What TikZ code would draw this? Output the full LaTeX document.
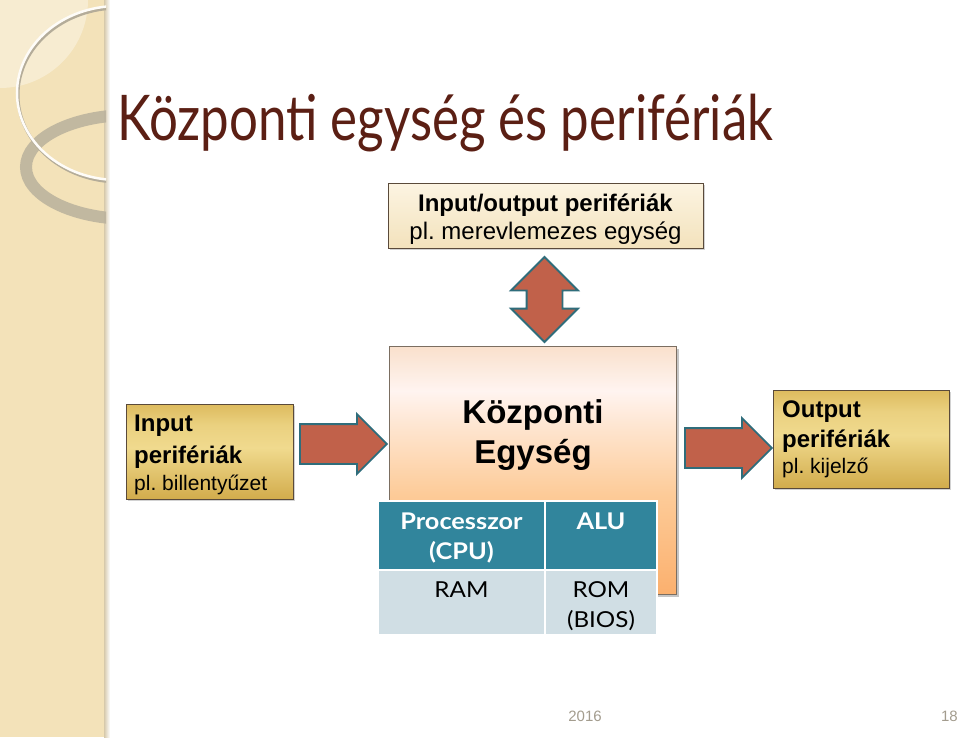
\documentclass[tikz,border=0pt]{standalone}
\usepackage{fontspec}
\setmainfont{Liberation Sans}
\newfontfamily\gillfont[FakeStretch=1.1]{Lato}
\newfontfamily\titlefont[FakeStretch=0.81]{Lato}
\usetikzlibrary{positioning,shapes.arrows,shadows}
\frenchspacing

\definecolor{bandcream}{HTML}{F3E2B9}
\definecolor{titlebrown}{HTML}{5B1F14}
\definecolor{arrowrust}{HTML}{C1614A}
\definecolor{arrowteal}{HTML}{2F6D7B}
\definecolor{cellteal}{HTML}{31859C}
\definecolor{cellgrey}{HTML}{D0DEE4}
\definecolor{boxedge}{HTML}{5A4A3A}
\definecolor{footgrey}{HTML}{A39C8E}
\definecolor{cpuorange}{HTML}{FBB06E}
\definecolor{cpumid}{HTML}{FDCB98}
\definecolor{cpulight}{HTML}{FFF4F0}
\definecolor{cputop}{HTML}{F9E0CC}
\definecolor{golddark}{HTML}{D2AC4C}
\definecolor{goldlight}{HTML}{F0DA8E}
\definecolor{goldtop}{HTML}{DDBB5E}

% vertical shadings: the path spans 25bp (bottom) to 75bp (top)
\pgfdeclareverticalshading{cpushade}{100bp}{color(0bp)=(cpuorange); color(25bp)=(cpuorange);
  color(45bp)=(cpumid); color(58bp)=(cpulight!60!cpumid); color(66bp)=(cpulight);
  color(75bp)=(cputop); color(100bp)=(cputop)}
\pgfdeclareverticalshading{goldshade}{100bp}{color(0bp)=(golddark); color(25bp)=(golddark);
  color(52bp)=(goldlight); color(64bp)=(goldlight!70!goldtop); color(75bp)=(goldtop);
  color(100bp)=(goldtop)}

\tikzset{
  perbox/.style={draw=boxedge, line width=0.8pt, inner sep=0pt,
    drop shadow={shadow xshift=1.5pt, shadow yshift=-1.5pt, opacity=0.35}},
  goldbox/.style={perbox, shading=goldshade},
  creambox/.style={perbox, top color={rgb,255:red,252;green,244;blue,226},
    bottom color={rgb,255:red,243;green,226;blue,188}},
  boxtext/.style={anchor=north west, align=left, inner sep=0pt,
    font=\fontsize{24}{30}\selectfont},
  cpubox/.style={draw=boxedge!80, line width=1pt, shading=cpushade,
    drop shadow={shadow xshift=2.5pt, shadow yshift=-2.5pt, opacity=0.45}},
  blockarrow/.style={single arrow, draw=arrowteal, fill=arrowrust, line width=1.8pt,
    inner xsep=0pt, inner ysep=19pt, single arrow head extend=10pt, minimum height=87},
  cell/.style={draw=white, line width=1.5pt, inner sep=0pt},
  celltext/.style={anchor=north, align=center, inner sep=0pt,
    font=\gillfont\fontsize{22}{30}\selectfont},
  foot/.style={text=footgrey, font=\fontsize{15}{18}\selectfont, inner sep=0pt}
}
\newcommand{\smallline}[1]{{\fontsize{21}{26}\selectfont #1}}

\begin{document}
\begin{tikzpicture}[x=1pt,y=-1pt]
\useasboundingbox (0,0) rectangle (959,737);
\fill[white] (0,0) rectangle (959,737);

% left band with rings
\fill[bandcream] (0,0) rectangle (106,737);
\shade[left color=bandcream!75!gray, right color=white] (104,0) rectangle (110,737);
\begin{scope}
  \clip (0,0) rectangle (106,737);
  \fill[white, opacity=0.35] (0,0) circle (88);
  \draw[line width=12, color=gray!50!bandcream, opacity=0.85] (130,167) ellipse (104 and 52);
  \draw[line width=3, gray!55!bandcream] (119,95) ellipse (101 and 87);
  \draw[line width=2.5, white!90!bandcream] (118,93) ellipse (101 and 87);
\end{scope}

% title
\node[anchor=base west, inner sep=0pt, text=titlebrown, font=\titlefont\fontsize{63}{70}\selectfont]
  (title) at (117,140) {Központi egység és perifériák};

% peripheral boxes
\node[creambox, minimum width=315, minimum height=65] (io) at (545.5,215.5) {};
\node[align=center, inner sep=0pt, font=\fontsize{24}{28}\selectfont] (iotext) at (545.5,219.5)
  {\textbf{Input/output perifériák}\\pl. merevlemezes egység};
\node[goldbox, minimum width=167, minimum height=95] (inp) at (209.5,451.5) {};
\node[boxtext] (inptext) at (134,415)
  {\textbf{Input}\\[2pt]\textbf{perifériák}\\[-3pt]\smallline{pl. billentyűzet}};
\node[goldbox, minimum width=176, minimum height=98] (outp) at (861,439) {};
\node[boxtext] (outptext) at (782,401)
  {\textbf{Output}\\\textbf{perifériák}\\[-4pt]\smallline{pl. kijelző}};

% central unit
\node[cpubox, minimum width=287, minimum height=248] (cpu) at (532.5,470) {};
\node[inner sep=0pt, align=center, font=\bfseries\fontsize{33}{40}\selectfont]
  (cputitle) at (533,435) {Központi\\Egység};

% table
\foreach \name/\cx/\cy/\w/\h/\col in {proc/461.5/535.5/167/69/cellteal, alu/601/535.5/112/69/cellteal,
  ram/461.5/602.5/167/65/cellgrey, rom/601/602.5/112/65/cellgrey}
  \node[cell, fill=\col, minimum width=\w, minimum height=\h] (\name) at (\cx,\cy) {};
\node[celltext, text=white, font=\gillfont\bfseries\fontsize{23}{30}\selectfont]
  at ([yshift=-12pt]proc.north) {Processzor\\(CPU)};
\node[celltext, text=white, font=\gillfont\bfseries\fontsize{23}{30}\selectfont]
  at ([yshift=-12pt]alu.north) {ALU};
\node[celltext] at ([yshift=-12pt]ram.north) {RAM};
\node[celltext] at ([yshift=-12pt]rom.north) {ROM\\(BIOS)};

% arrows
\node[blockarrow] (arrin) at (333.5,444) {};
\node[blockarrow] (arrout) at (718.5,448) {};
\node[double arrow, draw=arrowteal, fill=arrowrust, line width=1.8pt, inner ysep=0pt,
  inner xsep=17pt, double arrow head extend=15.5pt, minimum height=85,
  shape border rotate=90] (arrio) at (544.5,299.5) {};

% footer
\node[foot] (year) at (585,716) {2016};
\node[foot, anchor=east] (page) at (958,716) {18};
\end{tikzpicture}
\end{document}
